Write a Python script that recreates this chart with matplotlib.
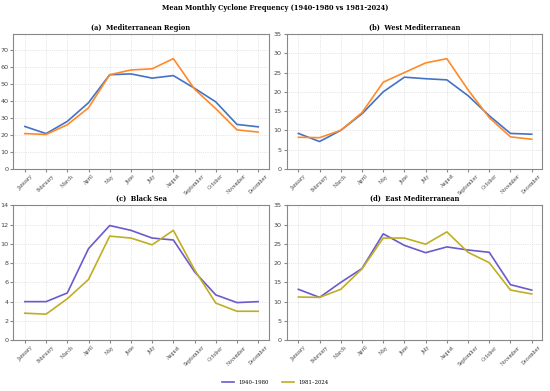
import matplotlib
matplotlib.use("Agg")
import matplotlib.pyplot as plt
import numpy as np

plt.rcParams['font.family'] = 'DejaVu Serif'

months = ['January', 'February', 'March', 'April', 'May', 'June', 'July',
          'August', 'September', 'October', 'November', 'December']

titles = ['(a)  Mediterranean Region', '(b)  West Mediterranean',
          '(c)  Black Sea', '(d)  East Mediterranean']

med_early = [25, 20.8, 28, 39, 55.5, 56, 53.5, 55, 47.5, 39.5, 26.2, 24.8]
med_late = [20.8, 20.3, 26, 36, 55.5, 58.3, 59, 65, 47, 35.5, 23, 21.7]
west_early = [9.2, 7.1, 10, 14.3, 20, 23.8, 23.4, 23.1, 19, 13.8, 9.2, 9.0]
west_late = [8.2, 8.1, 10, 14.6, 22.5, 25, 27.5, 28.6, 20.5, 13.3, 8.3, 7.7]
black_early = [4.0, 4.0, 4.9, 9.5, 11.9, 11.4, 10.6, 10.4, 7.1, 4.7, 3.9, 4.0]
black_late = [2.8, 2.7, 4.3, 6.3, 10.8, 10.6, 9.9, 11.4, 7.3, 3.85, 3.0, 3.0]
east_early = [13.2, 11.1, 15, 18.6, 27.6, 24.6, 22.7, 24.2, 23.4, 22.8, 14.4, 13.0]
east_late = [11.2, 11.1, 13.2, 18.5, 26.5, 26.5, 24.9, 28.1, 22.8, 20.1, 13.0, 12.0]

early = [med_early, west_early, black_early, east_early]
late = [med_late, west_late, black_late, east_late]
ytops = [79.5, 35.0, 14.0, 35.0]

fig, axes = plt.subplots(2, 2, figsize=(5.5, 3.91), dpi=100)
fig.subplots_adjust(left=0.024, right=0.986, top=0.913, bottom=0.13,
                    wspace=0.07, hspace=0.27)

x = np.arange(len(months))
for i, ax in enumerate(axes.flat):
    if i < 2:
        c1, c2 = '#4472c4', '#ff8a2a'
    else:
        c1, c2 = '#6a5acd', '#bfae22'
    ax.plot(x, early[i], color=c1, lw=1.2, label='1940–1980')
    ax.plot(x, late[i], color=c2, lw=1.2, label='1981–2024')
    ax.set_ylim(0, ytops[i])
    ax.set_xlim(-0.55, 11.5)
    ax.set_xticks(x)
    ax.set_xticklabels(months, rotation=45, fontsize=3.4)
    ax.tick_params(axis='y', labelsize=4.6, length=2, pad=1.5,
                   labelcolor='#444444', color='#888888')
    ax.tick_params(axis='x', length=2, pad=1.5, labelcolor='#444444',
                   color='#888888')
    for lab in ax.get_yticklabels():
        lab.set_family('DejaVu Sans')
    ax.grid(True, ls=':', lw=0.5, color='#d0d0d0')
    ax.set_title(titles[i], fontsize=4.8, fontweight='bold', pad=3)
    for s in ax.spines.values():
        s.set_color('#888888')
        s.set_linewidth(0.8)

fig.suptitle('Mean Monthly Cyclone Frequency (1940-1980 vs 1981-2024)',
             fontsize=4.8, fontweight='bold', y=0.99)
h, l = axes[1, 0].get_legend_handles_labels()
fig.legend(h, l, loc='center', bbox_to_anchor=(0.5, 0.022), ncol=2,
           fontsize=3.9, frameon=False, handlelength=2.2, columnspacing=2.5)
fig.savefig('out.png', dpi=100)
